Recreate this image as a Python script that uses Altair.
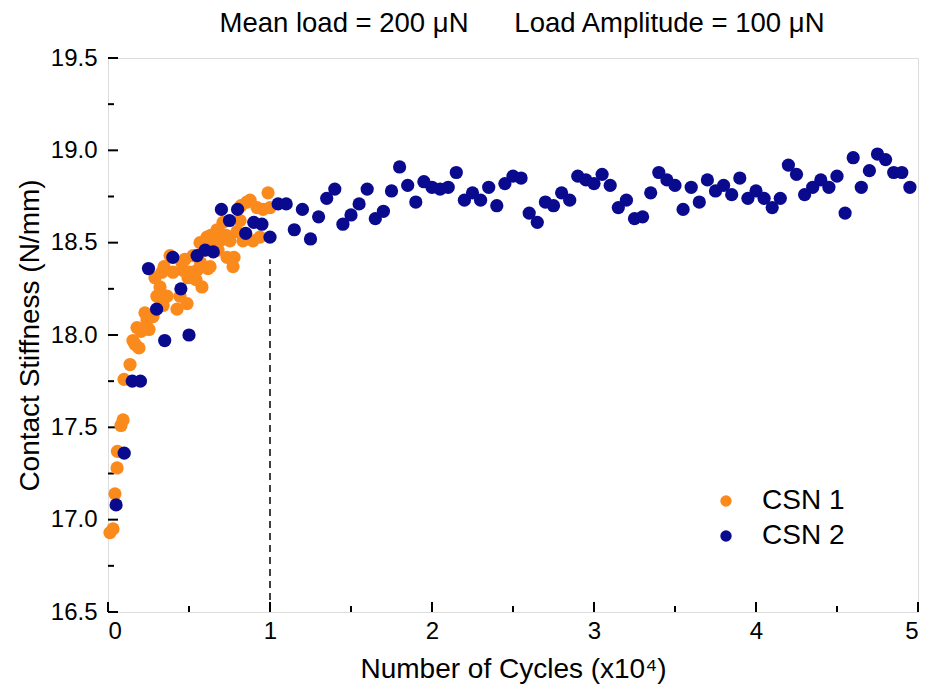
import altair as alt
import pandas as pd

# ---- data ----
csn1_x = [0.012, 0.031, 0.043, 0.056, 0.058, 0.080, 0.093, 0.099, 0.136, 0.154,
          0.167, 0.179, 0.191, 0.204, 0.228, 0.241, 0.253, 0.278, 0.290, 0.302,
          0.321, 0.333, 0.340, 0.346, 0.364, 0.383, 0.401, 0.426, 0.444, 0.457,
          0.463, 0.475, 0.488, 0.494, 0.506, 0.525, 0.543, 0.549, 0.568, 0.572,
          0.580, 0.593, 0.611, 0.617, 0.630, 0.635, 0.648, 0.673, 0.679, 0.691,
          0.710, 0.728, 0.735, 0.753, 0.772, 0.778, 0.796, 0.815, 0.821, 0.833,
          0.858, 0.877, 0.895, 0.920, 0.938, 0.957, 0.988, 1.000]
csn1_y = [16.93, 16.95, 17.14, 17.28, 17.37, 17.51, 17.54, 17.76, 17.84, 17.97,
          17.95, 18.04, 17.93, 18.02, 18.12, 18.08, 18.03, 18.10, 18.31, 18.21,
          18.26, 18.34, 18.16, 18.37, 18.21, 18.43, 18.34, 18.14, 18.21, 18.39,
          18.35, 18.41, 18.17, 18.31, 18.34, 18.43, 18.30, 18.35, 18.50, 18.39,
          18.26, 18.46, 18.53, 18.36, 18.37, 18.54, 18.48, 18.57, 18.46, 18.51,
          18.61, 18.54, 18.42, 18.51, 18.37, 18.42, 18.56, 18.62, 18.70, 18.51,
          18.72, 18.73, 18.51, 18.69, 18.53, 18.68, 18.77, 18.69]

csn2_x = [0.05, 0.10, 0.15, 0.20, 0.25, 0.30, 0.35, 0.40, 0.45, 0.50,
          0.55, 0.60, 0.65, 0.70, 0.75, 0.80, 0.85, 0.90, 0.95, 1.00,
          1.05, 1.10, 1.15, 1.20, 1.25, 1.30, 1.35, 1.40, 1.45, 1.50,
          1.55, 1.60, 1.65, 1.70, 1.75, 1.80, 1.85, 1.90, 1.95, 2.00,
          2.05, 2.10, 2.15, 2.20, 2.25, 2.30, 2.35, 2.40, 2.45, 2.50,
          2.55, 2.60, 2.65, 2.70, 2.75, 2.80, 2.85, 2.90, 2.95, 3.00,
          3.05, 3.10, 3.15, 3.20, 3.25, 3.30, 3.35, 3.40, 3.45, 3.50,
          3.55, 3.60, 3.65, 3.70, 3.75, 3.80, 3.85, 3.90, 3.95, 4.00,
          4.05, 4.10, 4.15, 4.20, 4.25, 4.30, 4.35, 4.40, 4.45, 4.50,
          4.55, 4.60, 4.65, 4.70, 4.75, 4.80, 4.85, 4.90, 4.95]
csn2_y = [17.08, 17.36, 17.75, 17.75, 18.36, 18.14, 17.97, 18.42, 18.25, 18.00,
          18.43, 18.46, 18.45, 18.68, 18.62, 18.68, 18.55, 18.61, 18.60, 18.53,
          18.71, 18.71, 18.57, 18.68, 18.52, 18.64, 18.74, 18.79, 18.60, 18.65,
          18.71, 18.79, 18.63, 18.67, 18.78, 18.91, 18.81, 18.72, 18.83, 18.80,
          18.79, 18.80, 18.88, 18.73, 18.77, 18.73, 18.80, 18.70, 18.82, 18.86,
          18.85, 18.66, 18.61, 18.72, 18.70, 18.77, 18.73, 18.86, 18.84, 18.82,
          18.87, 18.81, 18.69, 18.73, 18.63, 18.64, 18.77, 18.88, 18.84, 18.81,
          18.68, 18.80, 18.72, 18.84, 18.78, 18.81, 18.76, 18.85, 18.74, 18.78,
          18.74, 18.69, 18.74, 18.92, 18.87, 18.76, 18.80, 18.84, 18.80, 18.86,
          18.66, 18.96, 18.80, 18.89, 18.98, 18.95, 18.88, 18.88, 18.80]

series_names = ["CSN 1", "CSN 2"]
series_colors = ["#FB8A1C", "#0A0A8F"]

marker_x = [1.0]
marker_y_bottom = [16.5]
marker_y_top = [18.41]

x_major = [0, 1, 2, 3, 4, 5]
x_minor = [0.5, 1.5, 2.5, 3.5, 4.5]
y_major = [16.5, 17.0, 17.5, 18.0, 18.5, 19.0, 19.5]
y_minor = [16.75, 17.25, 17.75, 18.25, 18.75, 19.25]

GAP = "\u00a0" * 6
title_text = "Mean load = 200 \u03bcN" + GAP + "Load Amplitude = 100 \u03bcN"
x_title = "Number of Cycles (x10\u2074)"
y_title = "Contact Stiffness (N/mm)"

# ---- tables ----
df = pd.concat([
    pd.DataFrame({"cycles": csn1_x, "stiff": csn1_y, "series": series_names[0], "ord": 0}),
    pd.DataFrame({"cycles": csn2_x, "stiff": csn2_y, "series": series_names[1], "ord": 1}),
], ignore_index=True)

W, H = 810, 554
FONT = "Liberation Sans"

xscale = alt.Scale(domain=[0, 5], nice=False, zero=False)
yscale = alt.Scale(domain=[16.5, 19.5], nice=False, zero=False)

points = alt.Chart(df).mark_circle(size=175, opacity=1).encode(
    x=alt.X("cycles:Q", scale=xscale,
            axis=alt.Axis(values=x_major, format="d", title=x_title, grid=False,
                          ticks=False, domain=False, labelFontSize=24,
                          labelPadding=7, titleFontSize=28, titleFontWeight="normal",
                          titlePadding=12, labelFont=FONT, titleFont=FONT,
                          labelColor="black", titleColor="black")),
    y=alt.Y("stiff:Q", scale=yscale,
            axis=alt.Axis(values=y_major, format=".1f", title=y_title, grid=False,
                          ticks=False, domain=False, labelFontSize=24,
                          labelPadding=11, titleFontSize=28, titleFontWeight="normal",
                          titlePadding=6, labelFont=FONT, titleFont=FONT,
                          labelColor="black", titleColor="black")),
    color=alt.Color("series:N",
                    scale=alt.Scale(domain=series_names, range=series_colors),
                    legend=alt.Legend(title=None, orient="none", legendX=604, legendY=429,
                                      labelFontSize=28, labelFont=FONT, labelColor="black",
                                      symbolSize=130, symbolType="circle",
                                      symbolStrokeWidth=0, labelOffset=22,
                                      rowPadding=7)),
    order=alt.Order("ord:Q"),
)

dash = alt.Chart(pd.DataFrame({"x": marker_x, "y0": marker_y_bottom, "y2": marker_y_top})).mark_rule(
    color="black", strokeWidth=1.5, strokeDash=[7, 5]
).encode(x=alt.X("x:Q", scale=xscale), y=alt.Y("y0:Q", scale=yscale), y2="y2:Q")

xmaj = alt.Chart(pd.DataFrame({"v": x_major})).mark_rule(color="black", strokeWidth=2).encode(
    x=alt.X("v:Q", scale=xscale), y=alt.value(H), y2=alt.value(H - 10))
xmin = alt.Chart(pd.DataFrame({"v": x_minor})).mark_rule(color="black", strokeWidth=2).encode(
    x=alt.X("v:Q", scale=xscale), y=alt.value(H), y2=alt.value(H - 6))
ymaj = alt.Chart(pd.DataFrame({"v": y_major})).mark_rule(color="black", strokeWidth=2).encode(
    y=alt.Y("v:Q", scale=yscale), x=alt.value(0), x2=alt.value(10))
ymin = alt.Chart(pd.DataFrame({"v": y_minor})).mark_rule(color="black", strokeWidth=2).encode(
    y=alt.Y("v:Q", scale=yscale), x=alt.value(0), x2=alt.value(6))

chart = alt.layer(dash, xmaj, xmin, ymaj, ymin, points).properties(
    width=W, height=H,
    title=alt.TitleParams(title_text, fontSize=27.5, fontWeight="normal", font=FONT,
                          color="black", anchor="middle", offset=9, dx=9),
    autosize=alt.AutoSizeParams(type="none"),
    padding={"left": 100, "top": 50, "right": 4, "bottom": 78},
).configure_view(
    stroke="black", strokeWidth=2
).configure(background="white")

chart.save("out.html", embed_options={"renderer": "svg", "actions": False})
